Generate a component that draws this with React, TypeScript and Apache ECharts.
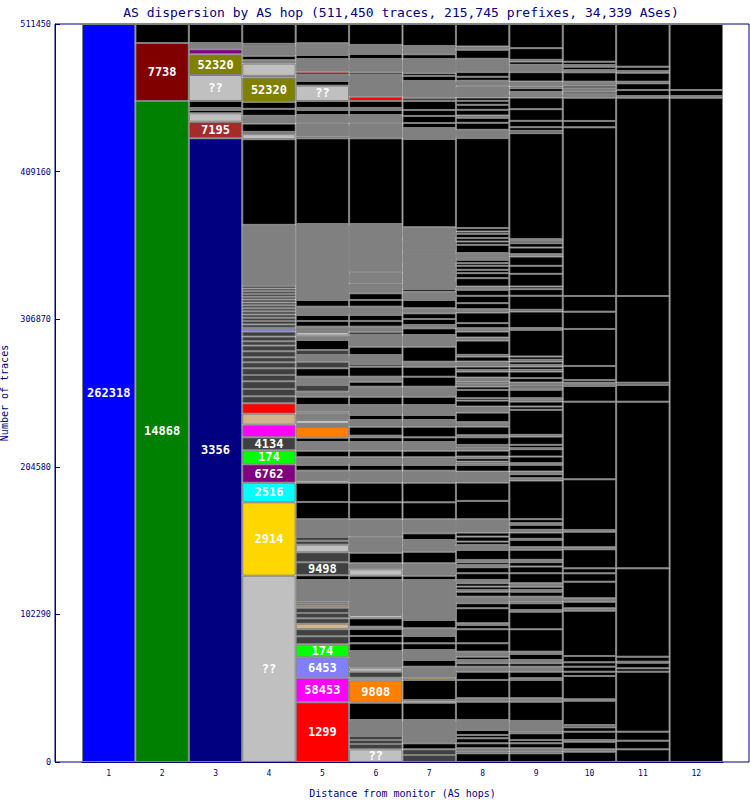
import React, { useEffect, useRef } from "react";
import * as echarts from "echarts";

// Segment = [traces, AS colour key, AS label]; listed bottom-up for each hop
type Seg = [number, string, string?];

const hops = ["1", "2", "3", "4", "5", "6", "7", "8", "9", "10", "11", "12"];
const totalTraces = 511450;
const tickStep = 102290;

const PALETTE: Record<string, string> = {
  B: "#0000FF", G: "#008000", M: "#800000", K: "#000000", Y: "#808080", N: "#000080",
  BR: "#A52A2A", LG: "#C0C0C0", P: "#800080", O: "#808000", DG: "#404040", R: "#FF0000",
  T: "#D2B48C", MG: "#FF00FF", LM: "#00FF00", C: "#00FFFF", GD: "#FFD700", PW: "#8080FF", OR: "#FF8000",
};

const hop1: Seg[] = [[511450, "B", "262318"]];
const hop2: Seg[] = [[458100, "G", "14868"], [40200, "M", "7738"], [13150, "K"]];
const hop3: Seg[] = [[432230, "N", "3356"], [11500, "BR", "7195"], [5820, "LG"], [2290, "K"], [1390, "DG"], [4850, "K"], [18020, "LG", "??"], [14350, "O", "52320"], [3470, "P"], [4370, "Y"], [13160, "K"]];
const hop4: Seg[] = [
  [129110, "LG", "??"], [50870, "GD", "2914"], [13580, "C", "2516"], [12750, "P", "6762"], [9700, "LM", "174"], [9010, "DG", "4134"], [8730, "MG"], [7620, "T"], [7210, "R"],
  [4850, "DG"], [5060, "DG"], [5340, "DG"], [4370, "DG"], [4640, "DG"], [4160, "DG"], [3470, "DG"], [4160, "DG"], [3950, "DG"], [2980, "DG"], [3260, "DG"], [3470, "DG"],
  [2560, "PW"],
  [2430, "DG"], [2360, "DG"], [2290, "DG"], [2220, "DG"], [2150, "DG"], [2080, "DG"], [2080, "DG"], [2010, "DG"], [2010, "DG"], [1940, "DG"], [1940, "DG"], [1870, "DG"], [1870, "DG"], [1870, "DG"],
  [42270, "Y"], [59390, "K"], [3470, "LG"], [1590, "DG"], [5750, "K"], [5340, "Y"], [4850, "K"], [4850, "K"], [16840, "O", "52320"], [1180, "Y"], [8520, "LG"], [2360, "Y"], [2980, "K"], [6930, "Y"], [1390, "K"], [13770, "K"],
];
const hop5: Seg[] = [
  [41370, "R", "1299"], [17050, "MG", "58453"], [14140, "PW", "6453"], [9010, "LM", "174"], [5540, "DG"], [4920, "DG"], [3810, "T"], [3700, "DG"], [3700, "DG"], [3690, "DG"], [1390, "OR"], [1390, "DG"], [1390, "DG"], [15040, "Y"], [3260, "K"], [9010, "DG", "9498"], [6930, "DG"], [5270, "LG"], [2670, "DG"], [2670, "DG"], [12340, "Y"], [11920, "K"], [13380, "K"],
  [1870, "LG"], [6450, "Y"], [3950, "K"], [5340, "Y"], [4570, "K"], [6030, "Y"], [2980, "K"], [7420, "OR"], [2080, "Y"], [2770, "LG"], [4640, "Y"], [1110, "LG"], [4640, "Y"], [5750, "K"], [3470, "Y"], [4640, "DG"], [5750, "Y"], [5820, "K"], [4570, "DG"], [4640, "Y"], [3470, "DG"], [6930, "K"], [2980, "Y"], [2560, "LG"], [3670, "Y"], [3950, "K"], [4160, "K"], [5750, "Y"], [4640, "K"], [52670, "Y"],
  [59390, "K"], [1110, "DG"], [8110, "Y"], [1180, "K"], [5750, "Y"], [3470, "K"], [1390, "K"], [4850, "K"], [10600, "LG", "??"], [3260, "K"], [4160, "Y"], [2290, "R"], [8800, "Y"], [2770, "K"], [2770, "Y"], [690, "K"], [3470, "Y"], [1180, "K"], [13350, "K"],
];
const hop6: Seg[] = [
  [8800, "LG", "??"], [3670, "DG"], [2770, "DG"], [2770, "DG"], [11090, "Y"], [11990, "K"], [15520, "OR", "9808"], [1800, "LG"], [4160, "DG"], [2770, "LG"], [11570, "Y"], [5340, "K"], [5060, "K"], [4850, "K"], [1590, "LG"], [5820, "K"], [2290, "LG"], [24260, "Y"], [2980, "K"], [4440, "LG"], [4160, "Y"], [7350, "K"], [11090, "Y"], [12060, "Y"], [11780, "K"], [13580, "K"],
  [8320, "Y"], [3950, "K"], [5340, "Y"], [4570, "K"], [6030, "Y"], [3260, "K"], [1110, "LG"], [6240, "K"], [4640, "Y"], [3470, "K"], [6930, "Y"], [5750, "K"], [6930, "Y"], [3470, "K"], [3470, "Y"], [6930, "K"], [1870, "DG"], [6240, "Y"], [5750, "K"], [8110, "Y"], [2290, "DG"], [3470, "Y"], [3950, "K"], [4160, "K"], [5750, "Y"], [4640, "K"], [4640, "K"], [6930, "Y"], [900, "K"], [5540, "Y"], [1180, "K"], [33470, "Y"],
  [59390, "K"], [9220, "Y"], [1180, "K"], [5750, "Y"], [3470, "K"], [1390, "K"], [4850, "K"], [2980, "R"], [15040, "Y"], [1870, "DG"], [9220, "Y"], [3470, "K"], [6240, "Y"], [14520, "K"],
];
const hop7: Seg[] = [
  [4850, "DG"], [3950, "DG"], [4160, "K"], [16150, "Y"], [11990, "K"], [1870, "LG"], [13860, "K"], [1590, "OR"], [7620, "Y"], [4640, "K"], [6930, "Y"], [4640, "K"], [5060, "K"], [5340, "Y"], [5750, "K"], [27720, "Y"], [2980, "K"], [8590, "Y"], [8040, "K"], [4640, "Y"], [3470, "Y"], [4640, "K"], [9700, "Y"], [11780, "K"], [13580, "K"],
  [8320, "Y"], [3950, "K"], [5340, "Y"], [4570, "K"], [6030, "Y"], [3260, "K"], [7350, "K"], [4640, "Y"], [3470, "K"], [6930, "Y"], [5750, "K"], [6930, "Y"], [6930, "K"], [6930, "K"], [3470, "Y"], [10400, "K"], [8110, "Y"], [4640, "K"], [2290, "Y"], [4160, "K"], [3950, "K"], [3470, "Y"], [5750, "K"],
  [5750, "Y"], [1870, "K"], [6240, "Y"], [1390, "K"], [8320, "Y"], [1390, "K"], [7620, "Y"], [1390, "K"], [7620, "Y"], [1390, "K"], [7420, "Y"],
  [61190, "K"], [7620, "Y"], [3470, "K"], [4850, "K"], [4160, "K"], [6240, "K"], [2290, "DG"], [11570, "Y"], [3470, "K"], [1870, "K"], [9910, "Y"], [3260, "K"], [2980, "Y"], [690, "K"], [2080, "Y"], [15250, "K"],
];
const hop8: Seg[] = [
  [6030, "K"], [1110, "K"], [2360, "Y"], [3470, "K"], [3470, "K"], [2290, "K"], [3470, "K"], [6930, "Y"], [12680, "K"], [2360, "Y"], [12680, "K"], [5750, "K"], [3470, "Y"], [2360, "K"], [2290, "Y"], [2290, "K"], [3470, "Y"], [5820, "K"], [9700, "K"], [2980, "K"], [1180, "Y"], [10400, "K"], [3470, "K"], [4570, "Y"], [3470, "K"], [1180, "Y"], [2290, "K"], [2360, "K"], [2290, "Y"], [4640, "K"], [4160, "K"], [1590, "Y"], [1870, "K"], [1590, "Y"], [6930, "K"], [3470, "Y"], [2290, "K"], [3470, "K"], [2770, "K"], [9290, "Y"], [12680, "K"], [12680, "K"],
  [7620, "Y"], [4640, "K"], [1180, "Y"], [1110, "K"], [2360, "K"], [1110, "Y"], [4160, "K"], [2360, "Y"], [1590, "K"], [5340, "K"], [1390, "Y"], [5960, "K"], [3050, "Y"], [6650, "K"], [4160, "Y"], [4160, "K"], [1660, "K"], [5750, "K"], [2290, "K"], [2360, "Y"], [1110, "K"], [2770, "Y"], [4160, "K"], [1180, "K"], [2290, "K"], [3470, "Y"], [3470, "K"], [1180, "K"], [9910, "K"], [2080, "Y"], [4160, "K"], [2360, "Y"], [3470, "K"], [7350, "K"], [2360, "Y"], [4160, "K"], [5060, "K"], [4160, "K"], [2290, "Y"], [5820, "K"], [3470, "K"], [2290, "K"], [2770, "K"], [1870, "K"], [2290, "K"], [1180, "K"], [3470, "Y"], [5750, "K"], [2290, "K"], [2360, "K"], [2980, "K"], [1590, "K"], [2360, "K"],
  [62370, "K"], [5750, "Y"], [4850, "K"], [3470, "K"], [1590, "Y"], [3950, "K"], [3470, "K"], [2770, "K"], [2290, "K"], [7620, "Y"], [690, "K"], [3260, "Y"], [2770, "K"], [3260, "K"], [9220, "Y"], [6240, "K"], [2290, "Y"], [15590, "K"],
];
const hop9: Seg[] = [
  [6030, "K"], [1110, "K"], [2360, "Y"], [3470, "K"], [2290, "K"], [4640, "K"], [1110, "K"], [7420, "Y"], [13380, "K"], [2360, "Y"], [12680, "K"], [1180, "K"], [4570, "K"], [3470, "Y"], [2360, "K"], [2290, "Y"], [4160, "K"], [1590, "Y"], [15520, "K"], [12200, "K"], [1180, "K"], [4640, "K"], [1110, "K"], [3470, "Y"], [3470, "K"], [1180, "K"], [2290, "K"], [2360, "Y"], [6930, "K"], [4640, "K"], [3050, "K"], [1590, "Y"], [6930, "K"], [1870, "Y"], [5060, "K"], [690, "Y"], [4370, "K"], [1870, "Y"], [3470, "K"], [1180, "K"], [2770, "K"], [26750, "K"],
  [1660, "Y"], [2770, "K"], [1800, "Y"], [4640, "K"], [1180, "Y"], [4570, "K"], [5130, "K"], [690, "Y"], [2290, "K"], [5750, "K"], [1180, "Y"], [17330, "K"], [2290, "K"], [3470, "K"], [1180, "K"], [1180, "K"], [5750, "K"], [1180, "K"], [1590, "K"], [2290, "Y"], [3050, "K"], [4570, "K"], [1180, "K"], [2290, "K"], [1180, "Y"], [2290, "K"], [1180, "K"], [2290, "K"], [18500, "K"], [1180, "Y"], [11500, "K"], [1180, "K"], [9700, "K"], [4640, "K"], [1800, "K"], [8800, "K"], [5540, "K"], [6450, "K"], [1660, "Y"], [4570, "K"], [3050, "K"], [1590, "K"], [1180, "K"],
  [73460, "K"],
  [1590, "K"], [2560, "K"], [4370, "K"], [8110, "K"], [8040, "K"], [2560, "Y"], [690, "K"], [690, "Y"], [2560, "K"], [1110, "K"], [3470, "Y"], [6510, "K"], [5060, "Y"], [2290, "K"], [1180, "K"], [8110, "K"], [16740, "K"],
];
const hop10: Seg[] = [
  [7140, "K"], [1660, "Y"], [5270, "K"], [1180, "Y"], [5750, "K"], [3050, "K"], [1590, "K"], [16840, "K"], [970, "Y"], [16150, "K"], [2980, "K"], [3470, "K"], [3050, "K"], [4370, "K"], [31390, "K"], [1660, "Y"], [4570, "K"], [2360, "Y"], [11500, "K"], [5820, "K"], [3470, "K"], [13170, "K"], [1390, "Y"], [10810, "K"], [1180, "Y"], [35140, "K"], [53780, "K"], [10880, "K"], [2290, "Y"], [1870, "K"], [9700, "K"], [25640, "K"], [11990, "K"], [10880, "K"], [116910, "K"], [4370, "K"], [16150, "K"], [2560, "Y"], [1590, "K"], [1180, "Y"], [1180, "K"], [1800, "K"], [2770, "Y"], [6510, "K"], [1590, "Y"], [2290, "K"], [1180, "K"], [2290, "K"], [26130, "K"],
];
const hop11: Seg[] = [
  [8800, "K"], [5960, "K"], [6240, "K"], [41580, "K"], [2360, "K"], [3880, "K"], [690, "K"], [3470, "K"], [61260, "K"], [115460, "K"], [11570, "K"], [1590, "K"], [60090, "K"], [137420, "K"], [1180, "Y"], [4160, "K"], [4640, "K"], [1110, "Y"], [6240, "K"], [1180, "Y"], [2980, "K"], [29590, "K"],
];
const hop12: Seg[] = [[460370, "K"], [1180, "Y"], [4160, "K"], [45740, "K"]];

const columns: Seg[][] = [hop1, hop2, hop3, hop4, hop5, hop6, hop7, hop8, hop9, hop10, hop11, hop12];

const NAVY = "#000080";
const MONO = "DejaVu Sans Mono";

export default function App() {
  const ref = useRef<HTMLDivElement>(null);
  useEffect(() => {
    if (!ref.current) return;
    const chart = echarts.init(ref.current, undefined, { renderer: "svg" });
    const maxLen = Math.max(...columns.map((c) => c.length));
    const series: any[] = [];
    for (let i = 0; i < maxLen; i++) {
      series.push({
        type: "bar",
        stack: "hops",
        xAxisIndex: 0,
        yAxisIndex: 0,
        barCategoryGap: "0%",
        silent: true,
        itemStyle: { borderColor: "#808080", borderWidth: 1 },
        label: {
          show: false,
          position: "inside",
          color: "#ffffff",
          fontFamily: MONO,
          fontWeight: "bold",
          fontSize: 12,
        },
        data: columns.map((col) => {
          const s = col[i];
          if (!s) return "-";
          const item: any = { value: s[0], itemStyle: { color: PALETTE[s[1]] } };
          if (s[2]) item.label = { show: true, formatter: s[2] };
          return item;
        }),
      });
    }
    chart.setOption({
      animation: false,
      textStyle: { fontFamily: MONO },
      graphic: [
        {
          type: "text",
          x: 401,
          y: 12,
          style: {
            text: "AS dispersion by AS hop (511,450 traces, 215,745 prefixes, 34,339 ASes)",
            align: "center",
            verticalAlign: "middle",
            fill: NAVY,
            font: `13px "${MONO}"`,
          },
        },
      ],
      grid: [
        { left: 82, right: 27, top: 24, bottom: 38, outerBoundsMode: "none", containLabel: false },
        { left: 55, right: 1, top: 24, bottom: 38, outerBoundsMode: "none", containLabel: false, show: true, borderColor: NAVY, borderWidth: 1, backgroundColor: "rgba(0,0,0,0)" },
      ],
      xAxis: [
        {
          type: "category",
          gridIndex: 0,
          data: hops,
          axisLine: { show: true, lineStyle: { color: NAVY } },
          axisTick: { show: false },
          axisLabel: { color: NAVY, fontSize: 8, margin: 7, fontFamily: MONO },
          name: "Distance from monitor (AS hops)",
          nameLocation: "middle",
          nameGap: 26,
          nameTextStyle: { color: NAVY, fontSize: 10, fontFamily: MONO },
        },
        { type: "value", gridIndex: 1, show: false, min: 0, max: 1 },
      ],
      yAxis: [
        {
          type: "value",
          gridIndex: 0,
          min: 0,
          max: totalTraces,
          interval: tickStep,
          offset: 27,
          axisLine: { show: true, lineStyle: { color: NAVY } },
          axisTick: { show: true, inside: true, length: 5, lineStyle: { color: NAVY } },
          axisLabel: { color: NAVY, fontSize: 8.5, margin: 4, fontFamily: MONO, formatter: (v: number) => String(v) },
          splitLine: { show: false },
          name: "Number of traces",
          nameLocation: "middle",
          nameGap: 42,
          nameTextStyle: { color: NAVY, fontSize: 10, fontFamily: MONO },
        },
        { type: "value", gridIndex: 1, show: false, min: 0, max: 1 },
      ],
      series,
    });
    return () => chart.dispose();
  }, []);
  return <div ref={ref} style={{ position: "absolute", left: 0, top: 0, width: 750, height: 800 }} />;
}
